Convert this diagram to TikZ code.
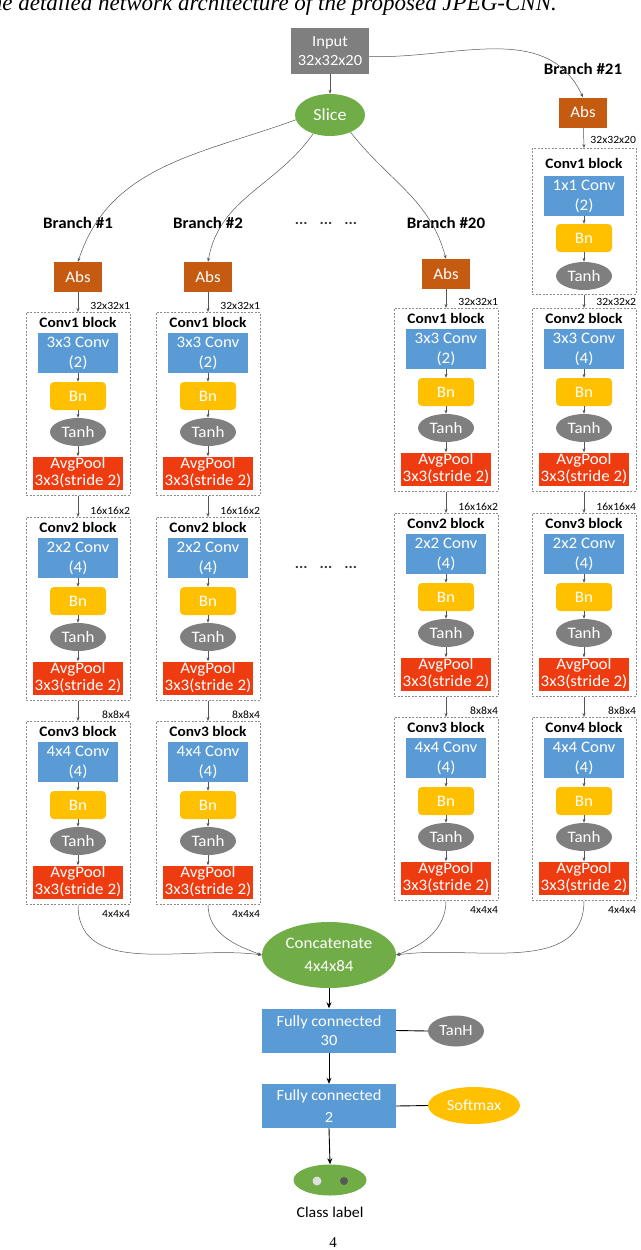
\documentclass[tikz,border=0pt]{standalone}
\usepackage{fontspec}
\setmainfont{Carlito}[FakeStretch=1.06]
\newfontfamily\capfont{Liberation Serif}
\usetikzlibrary{shapes.geometric,arrows.meta}
\definecolor{cgray}{HTML}{7F7F7F}
\definecolor{cgreen}{HTML}{70AD47}
\definecolor{cbrown}{HTML}{C55A11}
\definecolor{cblue}{HTML}{5B9BD5}
\definecolor{cyellow}{HTML}{FFC000}
\definecolor{cred}{HTML}{EE3B10}
\definecolor{cline}{HTML}{555555}
\tikzset{
  arr/.style={draw=cline, line width=0.5pt, -{Stealth[length=4pt,width=3pt]}},
  bigarr/.style={draw=black, line width=0.9pt, -{Stealth[length=6pt,width=5pt]}},
  blk/.style={draw=gray!90, dash pattern=on 2pt off 1.5pt, line width=0.5pt, minimum width=104pt, minimum height=183pt, inner sep=0pt},
  conv/.style={fill=cblue, text=white, minimum width=80pt, minimum height=40pt, inner sep=0pt, align=center, font=\fontsize{16}{20}\selectfont},
  bn/.style={fill=cyellow, rounded corners=4pt, minimum width=56pt, minimum height=28pt, inner sep=0pt, text=white, font=\fontsize{16}{18}\selectfont},
  tanhn/.style={ellipse, fill=cgray, minimum width=56pt, minimum height=28pt, inner sep=0pt, text=white, font=\fontsize{16}{18}\selectfont},
  pool/.style={fill=cred, minimum width=90pt, minimum height=33pt, inner sep=0pt, align=center, text=white, font=\fontsize{16}{17}\selectfont},
  absn/.style={fill=cbrown, minimum width=48pt, minimum height=30pt, inner sep=0pt, text=white, font=\fontsize{16}{18}\selectfont},
  ttl/.style={inner sep=0pt, font=\bfseries\fontsize{14.5}{16}\selectfont},
  brl/.style={inner sep=0pt, font=\bfseries\fontsize{16}{18}\selectfont},
  dim/.style={inner sep=0pt, font=\fontsize{11}{12}\selectfont},
  dots/.style={inner sep=0pt, font=\bfseries\fontsize{15}{16}\selectfont, text=black!80},
}
\newcommand{\cnnblock}[6]{%
  \node[blk,anchor=north] (#1) at (#2,-#3) {};
  \node[ttl] (#1t) at (#2,-#3-10) {#4};
  \node[conv] (#1c) at (#2,-#3-41) {#5\\#6};
  \node[bn] (#1b) at (#2,-#3-84) {Bn};
  \node[tanhn] (#1h) at (#2,-#3-120) {Tanh};
  \node[pool] (#1p) at (#2,-#3-161) {AvgPool\\3x3(stride 2)};
  \draw[arr] (#1c) -- (#1b);
  \draw[arr] (#1b) -- (#1h);
  \draw[arr] (#1h) -- (#1p);
}
\begin{document}
\begin{tikzpicture}[x=1pt,y=1pt]
\useasboundingbox (0,0) rectangle (640,-1250);
\clip (0,0) rectangle (640,-1250);

% caption (cut off at top, as in the reference)
\node[inner sep=0pt, anchor=base east, font=\capfont\itshape\fontsize{23}{25}\selectfont] (caption) at (557,-10) {The detailed network architecture of the proposed JPEG-CNN.};

% input and slice
\node[fill=cgray, text=white, minimum width=78pt, minimum height=46pt, inner sep=0pt, align=center, font=\fontsize{15.5}{19}\selectfont] (input) at (330,-51) {Input\\32x32x20};
\node[ellipse, fill=cgreen, text=white, minimum width=70pt, minimum height=42pt, inner sep=0pt, font=\fontsize{17}{19}\selectfont] (slice) at (330,-115) {Slice};
\draw[arr] (input) -- (slice);

% branch labels
\node[brl] (lb1) at (78,-223) {Branch \#1};
\node[brl] (lb2) at (208,-223) {Branch \#2};
\node[brl] (lb20) at (446,-223) {Branch \#20};
\node[brl] (lb21) at (583,-69) {Branch \#21};
\node[dots] (dt1) at (326,-223) {...\hspace{12pt}...\hspace{12pt}...};
\node[dots] (dt2) at (326,-567) {...\hspace{12pt}...\hspace{12pt}...};

% abs boxes
\node[absn] (abs1) at (78,-277) {Abs};
\node[absn] (abs2) at (208,-277) {Abs};
\node[absn] (abs20) at (446,-274) {Abs};
\node[absn] (abs21) at (583,-112.5) {Abs};

% slice/input to branches
\draw[arr] (slice.188) to[out=200,in=72] (abs1.north);
\draw[arr] (slice.228) to[out=235,in=80] (abs2.north);
\draw[arr] (slice.-40) to[out=-52,in=105] (abs20.north);
\draw[arr] (input.-8) to[out=-2,in=115] (abs21.north);

% branch 1
\cnnblock{ba}{78}{312}{Conv1 block}{3x3 Conv}{(2)}
\cnnblock{bb}{78}{517}{Conv2 block}{2x2 Conv}{(4)}
\cnnblock{bc}{78}{721}{Conv3 block}{4x4 Conv}{(4)}
% branch 2
\cnnblock{ca}{208}{312}{Conv1 block}{3x3 Conv}{(2)}
\cnnblock{cb}{208}{517}{Conv2 block}{2x2 Conv}{(4)}
\cnnblock{cc}{208}{721}{Conv3 block}{4x4 Conv}{(4)}
% branch 20
\cnnblock{da}{446}{308}{Conv1 block}{3x3 Conv}{(2)}
\cnnblock{db}{446}{513}{Conv2 block}{2x2 Conv}{(4)}
\cnnblock{dc}{446}{717}{Conv3 block}{4x4 Conv}{(4)}
% branch 21
\node[blk, minimum height=146pt, anchor=north] (e0) at (584,-148) {};
\node[ttl] (e0t) at (584,-163) {Conv1 block};
\node[conv] (e0c) at (584,-196) {1x1 Conv\\(2)};
\node[bn] (e0b) at (584,-238) {Bn};
\node[tanhn] (e0h) at (584,-276) {Tanh};
\draw[arr] (e0c) -- (e0b);
\draw[arr] (e0b) -- (e0h);
\cnnblock{ea}{584}{308}{Conv2 block}{3x3 Conv}{(4)}
\cnnblock{eb}{584}{513}{Conv3 block}{2x2 Conv}{(4)}
\cnnblock{ec}{584}{717}{Conv4 block}{4x4 Conv}{(4)}

% vertical connections
\draw[arr] (abs1) -- (ba.north);
\draw[arr] (ba.south) -- (bb.north);
\draw[arr] (bb.south) -- (bc.north);
\draw[arr] (abs2) -- (ca.north);
\draw[arr] (ca.south) -- (cb.north);
\draw[arr] (cb.south) -- (cc.north);
\draw[arr] (abs20) -- (da.north);
\draw[arr] (da.south) -- (db.north);
\draw[arr] (db.south) -- (dc.north);
\draw[arr] (abs21) -- (e0.north);
\draw[arr] (e0.south) -- (ea.north);
\draw[arr] (ea.south) -- (eb.north);
\draw[arr] (eb.south) -- (ec.north);

% dimension labels
\node[dim, anchor=base east] (n1) at ([yshift=3pt]ba.north east) {32x32x1};
\node[dim, anchor=base east] (n2) at ([yshift=3pt]bb.north east) {16x16x2};
\node[dim, anchor=base east] (n3) at ([yshift=3pt]bc.north east) {8x8x4};
\node[dim, anchor=base east] (n4) at ([yshift=-12.5pt]bc.south east) {4x4x4};
\node[dim, anchor=base east] (m1) at ([yshift=3pt]ca.north east) {32x32x1};
\node[dim, anchor=base east] (m2) at ([yshift=3pt]cb.north east) {16x16x2};
\node[dim, anchor=base east] (m3) at ([yshift=3pt]cc.north east) {8x8x4};
\node[dim, anchor=base east] (m4) at ([yshift=-12.5pt]cc.south east) {4x4x4};
\node[dim, anchor=base east] (k1) at ([yshift=3pt]da.north east) {32x32x1};
\node[dim, anchor=base east] (k2) at ([yshift=3pt]db.north east) {16x16x2};
\node[dim, anchor=base east] (k3) at ([yshift=3pt]dc.north east) {8x8x4};
\node[dim, anchor=base east] (k4) at ([yshift=-12.5pt]dc.south east) {4x4x4};
\node[dim, anchor=base east] (j0) at ([yshift=4.5pt]e0.north east) {32x32x20};
\node[dim, anchor=base east] (j1) at ([yshift=3pt]ea.north east) {32x32x2};
\node[dim, anchor=base east] (j2) at ([yshift=3pt]eb.north east) {16x16x4};
\node[dim, anchor=base east] (j3) at ([yshift=3pt]ec.north east) {8x8x4};
\node[dim, anchor=base east] (j4) at ([yshift=-12.5pt]ec.south east) {4x4x4};

% concatenate and head
\node[ellipse, fill=cgreen, text=white, minimum width=134pt, minimum height=66pt, inner sep=0pt, align=center, font=\fontsize{16}{23}\selectfont] (concat) at (329,-955) {Concatenate\\4x4x84};
\draw[arr] (bc.south) to[out=-90,in=172] (concat.west);
\draw[arr] (cc.south) to[out=-90,in=160] (concat.west);
\draw[arr] (dc.south) to[out=-90,in=20] (concat.east);
\draw[arr] (ec.south) to[out=-90,in=8] (concat.east);

\node[fill=cblue, text=white, minimum width=134pt, minimum height=44pt, inner sep=0pt, align=center, font=\fontsize{15.5}{19}\selectfont] (fc1) at (329,-1030.5) {Fully connected\\30};
\node[fill=cblue, text=white, minimum width=134pt, minimum height=44pt, inner sep=0pt, align=center, font=\fontsize{15.5}{22}\selectfont] (fc2) at (329,-1106) {Fully connected\\2};
\node[ellipse, fill=cgray, text=white, minimum width=56pt, minimum height=31pt, inner sep=0pt, font=\fontsize{15.5}{18}\selectfont] (tanhH) at (456,-1031) {TanH};
\node[ellipse, fill=cyellow, text=white, minimum width=92pt, minimum height=37pt, inner sep=0pt, font=\fontsize{15.5}{18}\selectfont] (softmax) at (474,-1105.5) {Softmax};
\node[ellipse, fill=cgreen, minimum width=73pt, minimum height=31pt, inner sep=0pt] (cls) at (330,-1180) {};
\node[circle, fill=gray!25, minimum size=9pt, inner sep=0pt] (dotA) at (317,-1181) {};
\node[circle, fill=black!65, minimum size=8pt, inner sep=0pt] (dotB) at (344,-1181) {};
\node[inner sep=0pt, font=\fontsize{15}{17}\selectfont] (clslabel) at (330,-1212) {Class label};
\node[inner sep=0pt, font=\capfont\fontsize{15}{17}\selectfont] (pagenum) at (333,-1243) {4};

\draw[bigarr] (concat.south) -- (fc1.north);
\draw[bigarr] (fc1.south) -- (fc2.north);
\draw[bigarr] (fc2.south) -- (cls.north);
\draw[draw=black, line width=0.9pt] (fc1.east) -- (tanhH.west);
\draw[draw=black, line width=0.9pt] (fc2.east) -- (softmax.west);
\end{tikzpicture}
\end{document}
